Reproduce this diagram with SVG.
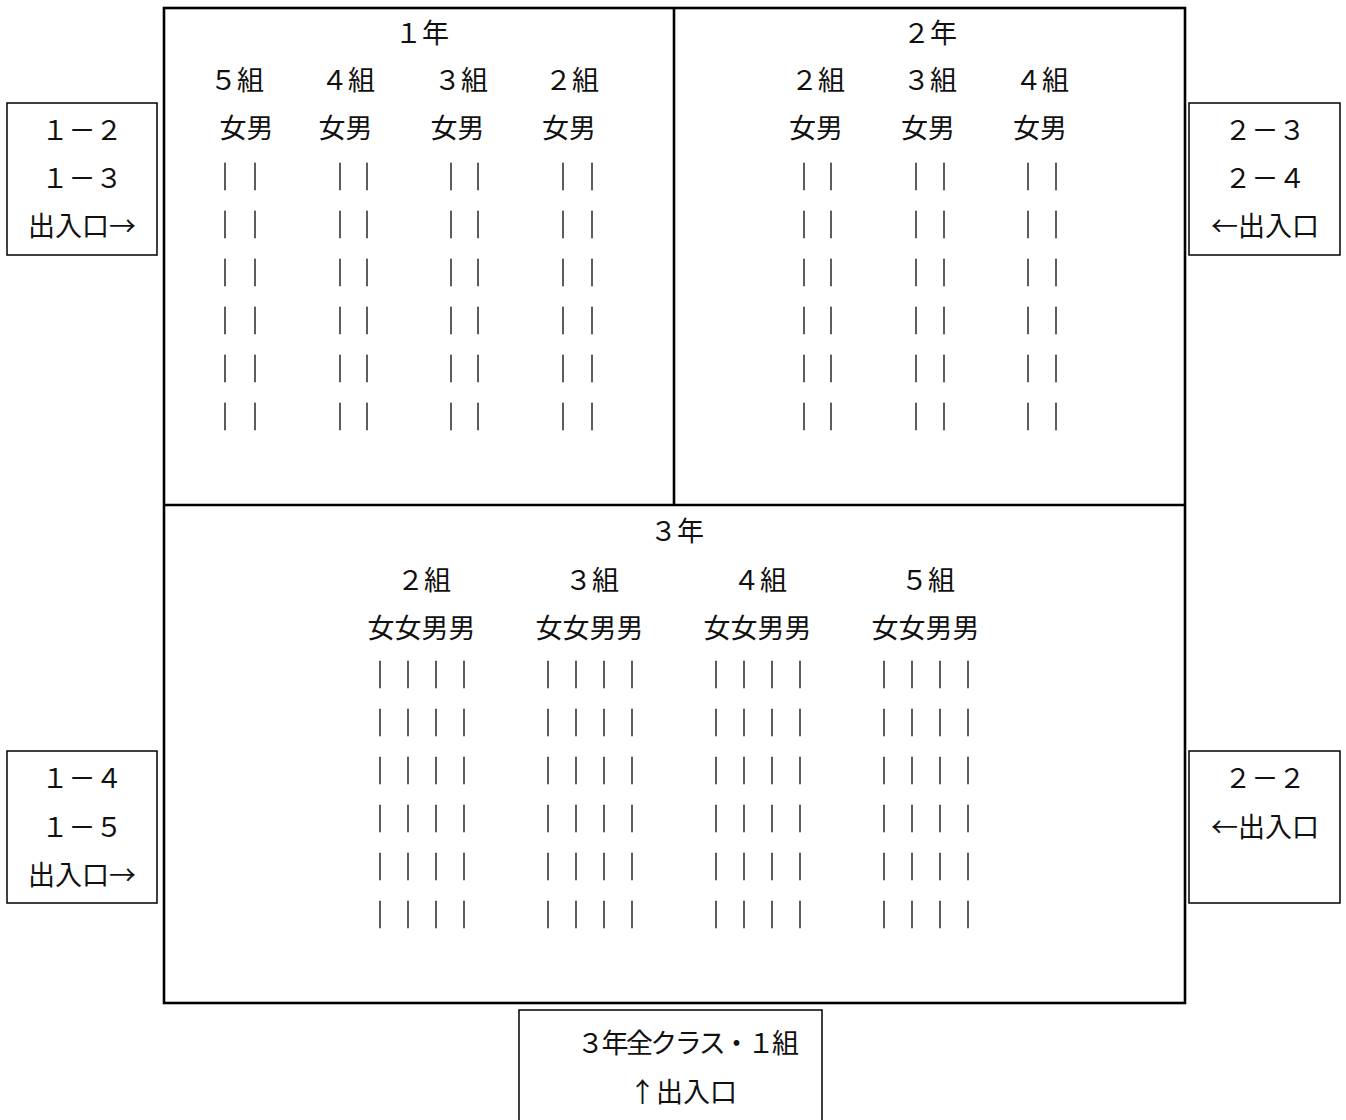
<svg xmlns="http://www.w3.org/2000/svg" width="1346" height="1120" viewBox="0 0 1346 1120">
<style>
  text { font-family: "Noto Sans CJK JP", "Noto Sans CJK SC", sans-serif; font-size: 27px; fill: #111; text-anchor: middle; dominant-baseline: central; }
  .frame { fill: none; stroke: #000; stroke-width: 2.6; }
  .box { fill: #fff; stroke: #000; stroke-width: 1.5; }
  .bar text { fill: #333; stroke: #333; stroke-width: 0.5; }
</style>
<defs>
  <filter id="gray" x="0" y="0" width="1" height="1" filterUnits="objectBoundingBox">
    <feOffset dx="0" dy="0"/>
  </filter>
</defs>
<rect width="1346" height="1120" fill="#fff"/>

<g id="frame">
  <rect class="frame" x="164" y="8" width="1021" height="995"/>
  <line class="frame" x1="674" y1="8" x2="674" y2="505"/>
  <line class="frame" x1="164" y1="505" x2="1185" y2="505"/>
</g>

<g id="grade1">
  <text x="422" y="31">１年</text>
  <text x="237" y="78">５組</text>
  <text x="348" y="78">４組</text>
  <text x="461" y="78">３組</text>
  <text x="572" y="78">２組</text>
  <text x="246.5" y="126">女男</text>
  <text x="345.5" y="126">女男</text>
  <text x="457.5" y="126">女男</text>
  <text x="569" y="126">女男</text>
  <g class="bar" filter="url(#gray)">
    <text x="225 255 340 367 451 478 563 592" y="175">｜｜｜｜｜｜｜｜</text>
    <text x="225 255 340 367 451 478 563 592" y="223">｜｜｜｜｜｜｜｜</text>
    <text x="225 255 340 367 451 478 563 592" y="271">｜｜｜｜｜｜｜｜</text>
    <text x="225 255 340 367 451 478 563 592" y="319">｜｜｜｜｜｜｜｜</text>
    <text x="225 255 340 367 451 478 563 592" y="367">｜｜｜｜｜｜｜｜</text>
    <text x="225 255 340 367 451 478 563 592" y="415">｜｜｜｜｜｜｜｜</text>
  </g>
</g>

<g id="grade2">
  <text x="930" y="31">２年</text>
  <text x="818" y="78">２組</text>
  <text x="930" y="78">３組</text>
  <text x="1042" y="78">４組</text>
  <text x="816" y="126">女男</text>
  <text x="928" y="126">女男</text>
  <text x="1040" y="126">女男</text>
  <g class="bar" filter="url(#gray)">
    <text x="804 831 916 944 1028 1056" y="175">｜｜｜｜｜｜</text>
    <text x="804 831 916 944 1028 1056" y="223">｜｜｜｜｜｜</text>
    <text x="804 831 916 944 1028 1056" y="271">｜｜｜｜｜｜</text>
    <text x="804 831 916 944 1028 1056" y="319">｜｜｜｜｜｜</text>
    <text x="804 831 916 944 1028 1056" y="367">｜｜｜｜｜｜</text>
    <text x="804 831 916 944 1028 1056" y="415">｜｜｜｜｜｜</text>
  </g>
</g>

<g id="grade3">
  <text x="677" y="529">３年</text>
  <text x="424" y="578">２組</text>
  <text x="592" y="578">３組</text>
  <text x="760" y="578">４組</text>
  <text x="928" y="578">５組</text>
  <text x="421.5" y="626">女女男男</text>
  <text x="589.5" y="626">女女男男</text>
  <text x="757.5" y="626">女女男男</text>
  <text x="925.5" y="626">女女男男</text>
  <g class="bar" filter="url(#gray)">
    <text x="380 408 436 464 548 576 604 632 716 744 772 800 884 912 940 968" y="673">｜｜｜｜｜｜｜｜｜｜｜｜｜｜｜｜</text>
    <text x="380 408 436 464 548 576 604 632 716 744 772 800 884 912 940 968" y="721">｜｜｜｜｜｜｜｜｜｜｜｜｜｜｜｜</text>
    <text x="380 408 436 464 548 576 604 632 716 744 772 800 884 912 940 968" y="769">｜｜｜｜｜｜｜｜｜｜｜｜｜｜｜｜</text>
    <text x="380 408 436 464 548 576 604 632 716 744 772 800 884 912 940 968" y="817">｜｜｜｜｜｜｜｜｜｜｜｜｜｜｜｜</text>
    <text x="380 408 436 464 548 576 604 632 716 744 772 800 884 912 940 968" y="865">｜｜｜｜｜｜｜｜｜｜｜｜｜｜｜｜</text>
    <text x="380 408 436 464 548 576 604 632 716 744 772 800 884 912 940 968" y="913">｜｜｜｜｜｜｜｜｜｜｜｜｜｜｜｜</text>
  </g>
</g>

<g id="entrance-left-top">
  <rect class="box" x="7" y="103" width="150" height="152"/>
  <text x="82" y="128">１－２</text>
  <text x="82" y="176">１－３</text>
  <text x="82" y="224">出入口→</text>
</g>

<g id="entrance-left-bottom">
  <rect class="box" x="7" y="751" width="150" height="152"/>
  <text x="82" y="776">１－４</text>
  <text x="82" y="825">１－５</text>
  <text x="82" y="873">出入口→</text>
</g>

<g id="entrance-right-top">
  <rect class="box" x="1189" y="103" width="151" height="152"/>
  <text x="1265" y="128">２－３</text>
  <text x="1265" y="176">２－４</text>
  <text x="1265" y="224">←出入口</text>
</g>

<g id="entrance-right-bottom">
  <rect class="box" x="1189" y="751" width="151" height="152"/>
  <text x="1265" y="776">２－２</text>
  <text x="1265" y="825">←出入口</text>
</g>

<g id="entrance-bottom">
  <rect class="box" x="519" y="1010" width="303" height="120"/>
  <text x="688" y="1041" textLength="222" lengthAdjust="spacing">３年全クラス・１組</text>
  <text x="683" y="1090">↑出入口</text>
</g>

<g id="connectors"></g>
</svg>
